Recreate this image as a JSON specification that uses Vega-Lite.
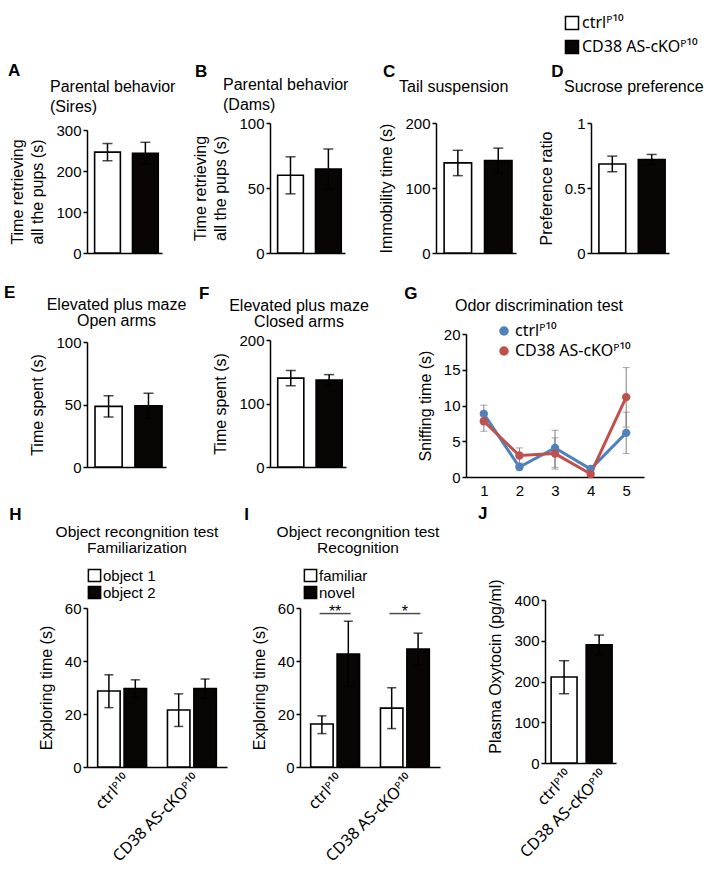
{
"$schema":"https://vega.github.io/schema/vega-lite/v6.json",
"background":"white",
"padding":{"left":3,"top":15,"right":0,"bottom":0},
"config":{
 "font":"Liberation Sans",
 "view":{"stroke":null},
 "axis":{"grid":false,"domainColor":"black","domainWidth":1.5,"tickColor":"black","tickWidth":1.5,"tickSize":4,"labelFontSize":15,"labelColor":"black","titleFontSize":16,"titleFontWeight":"normal","titleColor":"black","labelPadding":2,"titlePadding":10},
 "axisX":{"ticks":false,"labelFont":"Noto Sans","labelFontSize":16},
 "title":{"fontSize":16,"fontWeight":"normal","color":"black"},
 "legend":{"labelFontSize":16,"labelColor":"black","labelFont":"Noto Sans"}
},
"datasets":{
 "A":[{"g":"ctrlᴾ¹⁰","m":246,"lo":225,"hi":267},{"g":"CD38 AS-cKOᴾ¹⁰","m":243,"lo":216,"hi":270}],
 "B":[{"g":"ctrlᴾ¹⁰","m":59.8,"lo":45.5,"hi":74},{"g":"CD38 AS-cKOᴾ¹⁰","m":64.5,"lo":49,"hi":80}],
 "C":[{"g":"ctrlᴾ¹⁰","m":138.7,"lo":119,"hi":158},{"g":"CD38 AS-cKOᴾ¹⁰","m":142.3,"lo":123,"hi":161.3}],
 "D":[{"g":"ctrlᴾ¹⁰","m":0.685,"lo":0.625,"hi":0.745},{"g":"CD38 AS-cKOᴾ¹⁰","m":0.719,"lo":0.68,"hi":0.758}],
 "E":[{"g":"ctrlᴾ¹⁰","m":48.5,"lo":40,"hi":57},{"g":"CD38 AS-cKOᴾ¹⁰","m":49,"lo":39,"hi":59}],
 "F":[{"g":"ctrlᴾ¹⁰","m":140,"lo":128,"hi":152},{"g":"CD38 AS-cKOᴾ¹⁰","m":137,"lo":129,"hi":145.5}],
 "G":[
  {"odor":1,"g":"ctrlᴾ¹⁰","m":8.83,"lo":7.6,"hi":10.05},
  {"odor":2,"g":"ctrlᴾ¹⁰","m":1.4,"lo":1.0,"hi":1.8},
  {"odor":3,"g":"ctrlᴾ¹⁰","m":4.07,"lo":1.35,"hi":6.54},
  {"odor":4,"g":"ctrlᴾ¹⁰","m":1.12,"lo":0.95,"hi":1.3},
  {"odor":5,"g":"ctrlᴾ¹⁰","m":6.17,"lo":3.27,"hi":9.07},
  {"odor":1,"g":"CD38 AS-cKOᴾ¹⁰","m":7.8,"lo":6.4,"hi":9.2},
  {"odor":2,"g":"CD38 AS-cKOᴾ¹⁰","m":3.0,"lo":1.95,"hi":4.07},
  {"odor":3,"g":"CD38 AS-cKOᴾ¹⁰","m":3.27,"lo":1.1,"hi":5.47},
  {"odor":4,"g":"CD38 AS-cKOᴾ¹⁰","m":0.42,"lo":0.15,"hi":0.7},
  {"odor":5,"g":"CD38 AS-cKOᴾ¹⁰","m":11.17,"lo":7.0,"hi":15.3}],
 "H":[
  {"g":"ctrlᴾ¹⁰","o":"object 1","m":28.7,"lo":22.4,"hi":34.8},
  {"g":"ctrlᴾ¹⁰","o":"object 2","m":29.6,"lo":26.3,"hi":32.9},
  {"g":"CD38 AS-cKOᴾ¹⁰","o":"object 1","m":21.5,"lo":15.3,"hi":27.6},
  {"g":"CD38 AS-cKOᴾ¹⁰","o":"object 2","m":29.6,"lo":26,"hi":33.2}],
 "I":[
  {"g":"ctrlᴾ¹⁰","o":"familiar","m":16.2,"lo":12.6,"hi":19.3},
  {"g":"ctrlᴾ¹⁰","o":"novel","m":42.6,"lo":30.3,"hi":55},
  {"g":"CD38 AS-cKOᴾ¹⁰","o":"familiar","m":22.2,"lo":14.5,"hi":29.9},
  {"g":"CD38 AS-cKOᴾ¹⁰","o":"novel","m":44.5,"lo":38.5,"hi":50.5}],
 "Isig":[{"g":"ctrlᴾ¹⁰","y":57.9,"t":"**"},{"g":"CD38 AS-cKOᴾ¹⁰","y":57.9,"t":"*"}],
 "J":[{"g":"ctrlᴾ¹⁰","m":211,"lo":170,"hi":251},{"g":"CD38 AS-cKOᴾ¹⁰","m":290,"lo":266,"hi":314}]
},
"spacing":23,
"resolve":{"scale":{"fill":"independent","color":"independent","xOffset":"independent"},"legend":{"fill":"independent","color":"independent"}},
"vconcat":[
 {"spacing":29,
  "hconcat":[
  {"spacing":16,
   "hconcat":[
   {"title":{"text":"A","anchor":"start","frame":"bounds","fontSize":17,"fontWeight":"bold","offset":-1,"dx":-2},
    "vconcat":[{
     "width":75,"height":130,
     "title":{"text":["Parental behavior","(Sires)"],"anchor":"start","frame":"group","dx":-37,"offset":8,"lineHeight":20},
     "data":{"name":"A"},
     "encoding":{"x":{"field":"g","type":"nominal","sort":null,"title":null,"axis":{"labels":false,"ticks":false},"scale":{"paddingInner":0.32,"paddingOuter":0.15,"align":0.67}}},
     "layer":[
      {"mark":{"type":"bar","stroke":"black","strokeWidth":1.6},
       "encoding":{"y":{"field":"m","type":"quantitative","scale":{"domain":[0,300],"range":[130,7]},"axis":{"values":[0,100,200,300],"title":["Time retrieving","all the pups (s)"],"titleLineHeight":20}},
        "fill":{"field":"g","type":"nominal","sort":null,"scale":{"domain":["ctrlᴾ¹⁰","CD38 AS-cKOᴾ¹⁰"],"range":["white","#0a0505"]},
         "legend":{"orient":"none","legendX":477,"legendY":-108,"title":null,"symbolType":"square","symbolSize":170,"symbolStrokeColor":"black","symbolStrokeWidth":1.5,"labelFontSize":16,"rowPadding":4,"labelOffset":2}}}},
      {"mark":{"type":"rule","color":"black","strokeWidth":1.5},"encoding":{"y":{"field":"lo","type":"quantitative","axis":{"values":[0,100,200,300],"title":["Time retrieving","all the pups (s)"],"titleLineHeight":20}},"y2":{"field":"hi"}}},
      {"mark":{"type":"tick","color":"black","size":10,"thickness":1.5},"encoding":{"y":{"field":"lo","type":"quantitative","axis":{"values":[0,100,200,300],"title":["Time retrieving","all the pups (s)"],"titleLineHeight":20}}}},
      {"mark":{"type":"tick","color":"black","size":10,"thickness":1.5},"encoding":{"y":{"field":"hi","type":"quantitative","axis":{"values":[0,100,200,300],"title":["Time retrieving","all the pups (s)"],"titleLineHeight":20}}}}
     ]}]},
   {"title":{"text":"B","anchor":"start","frame":"bounds","fontSize":17,"fontWeight":"bold","offset":-3.5,"dx":2},
    "vconcat":[{
     "width":75,"height":130,
     "title":{"text":["Parental behavior","(Dams)"],"anchor":"start","frame":"group","dx":-47,"offset":3,"lineHeight":20},
     "data":{"name":"B"},
     "encoding":{"x":{"field":"g","type":"nominal","sort":null,"title":null,"axis":{"labels":false,"ticks":false},"scale":{"paddingInner":0.32,"paddingOuter":0.15,"align":0.67}}},
     "layer":[
      {"mark":{"type":"bar","stroke":"black","strokeWidth":1.6},
       "encoding":{"y":{"field":"m","type":"quantitative","scale":{"domain":[0,100]},"axis":{"values":[0,50,100],"title":["Time retrieving","all the pups (s)"],"titleLineHeight":20}},
        "fill":{"field":"g","type":"nominal","sort":null,"scale":{"domain":["ctrlᴾ¹⁰","CD38 AS-cKOᴾ¹⁰"],"range":["white","#0a0505"]},
         "legend":{"orient":"none","legendX":477,"legendY":-108,"title":null,"symbolType":"square","symbolSize":170,"symbolStrokeColor":"black","symbolStrokeWidth":1.5,"labelFontSize":16,"rowPadding":4,"labelOffset":2}}}},
      {"mark":{"type":"rule","color":"black","strokeWidth":1.5},"encoding":{"y":{"field":"lo","type":"quantitative","axis":{"values":[0,50,100],"title":["Time retrieving","all the pups (s)"],"titleLineHeight":20}},"y2":{"field":"hi"}}},
      {"mark":{"type":"tick","color":"black","size":10,"thickness":1.5},"encoding":{"y":{"field":"lo","type":"quantitative","axis":{"values":[0,50,100],"title":["Time retrieving","all the pups (s)"],"titleLineHeight":20}}}},
      {"mark":{"type":"tick","color":"black","size":10,"thickness":1.5},"encoding":{"y":{"field":"hi","type":"quantitative","axis":{"values":[0,50,100],"title":["Time retrieving","all the pups (s)"],"titleLineHeight":20}}}}
     ]}]}
   ]},
  {"spacing":22,
   "hconcat":[
   {"title":{"text":"C","anchor":"start","frame":"bounds","fontSize":17,"fontWeight":"bold","offset":-2,"dx":4},
    "vconcat":[{
     "width":80,"height":130,
     "title":{"text":"Tail suspension","anchor":"start","frame":"group","dx":-37,"offset":21},
     "data":{"name":"C"},
     "encoding":{"x":{"field":"g","type":"nominal","sort":null,"title":null,"axis":{"labels":false,"ticks":false},"scale":{"paddingInner":0.32,"paddingOuter":0.15,"align":0.67}}},
     "layer":[
      {"mark":{"type":"bar","stroke":"black","strokeWidth":1.6},
       "encoding":{"y":{"field":"m","type":"quantitative","scale":{"domain":[0,200]},"axis":{"values":[0,100,200],"title":"Immobility time (s)"}},
        "fill":{"field":"g","type":"nominal","sort":null,"scale":{"domain":["ctrlᴾ¹⁰","CD38 AS-cKOᴾ¹⁰"],"range":["white","#0a0505"]},
         "legend":{"orient":"none","legendX":477,"legendY":-108,"title":null,"symbolType":"square","symbolSize":170,"symbolStrokeColor":"black","symbolStrokeWidth":1.5,"labelFontSize":16,"rowPadding":4,"labelOffset":2}}}},
      {"mark":{"type":"rule","color":"black","strokeWidth":1.5},"encoding":{"y":{"field":"lo","type":"quantitative","axis":{"values":[0,100,200],"title":"Immobility time (s)"}},"y2":{"field":"hi"}}},
      {"mark":{"type":"tick","color":"black","size":10,"thickness":1.5},"encoding":{"y":{"field":"lo","type":"quantitative","axis":{"values":[0,100,200],"title":"Immobility time (s)"}}}},
      {"mark":{"type":"tick","color":"black","size":10,"thickness":1.5},"encoding":{"y":{"field":"hi","type":"quantitative","axis":{"values":[0,100,200],"title":"Immobility time (s)"}}}}
     ]}]},
   {"title":{"text":"D","anchor":"start","frame":"bounds","fontSize":17,"fontWeight":"bold","offset":-2,"dx":13},
    "vconcat":[{
     "width":78,"height":130,
     "title":{"text":"Sucrose preference","anchor":"start","frame":"group","dx":-27,"offset":21},
     "data":{"name":"D"},
     "encoding":{"x":{"field":"g","type":"nominal","sort":null,"title":null,"axis":{"labels":false,"ticks":false},"scale":{"paddingInner":0.32,"paddingOuter":0.15,"align":0.67}}},
     "layer":[
      {"mark":{"type":"bar","stroke":"black","strokeWidth":1.6},
       "encoding":{"y":{"field":"m","type":"quantitative","scale":{"domain":[0,1]},"axis":{"values":[0,0.5,1],"format":".1~f","title":"Preference ratio"}},
        "fill":{"field":"g","type":"nominal","sort":null,"scale":{"domain":["ctrlᴾ¹⁰","CD38 AS-cKOᴾ¹⁰"],"range":["white","#0a0505"]},
         "legend":{"orient":"none","legendX":477,"legendY":-108,"title":null,"symbolType":"square","symbolSize":170,"symbolStrokeColor":"black","symbolStrokeWidth":1.5,"labelFontSize":16,"rowPadding":4,"labelOffset":2}}}},
      {"mark":{"type":"rule","color":"black","strokeWidth":1.5},"encoding":{"y":{"field":"lo","type":"quantitative","axis":{"values":[0,0.5,1],"format":".1~f","title":"Preference ratio"}},"y2":{"field":"hi"}}},
      {"mark":{"type":"tick","color":"black","size":10,"thickness":1.5},"encoding":{"y":{"field":"lo","type":"quantitative","axis":{"values":[0,0.5,1],"format":".1~f","title":"Preference ratio"}}}},
      {"mark":{"type":"tick","color":"black","size":10,"thickness":1.5},"encoding":{"y":{"field":"hi","type":"quantitative","axis":{"values":[0,0.5,1],"format":".1~f","title":"Preference ratio"}}}}
     ]}]}
   ]}
  ]},
 {"spacing":6,
  "resolve":{"scale":{"fill":"independent","color":"independent","xOffset":"independent"},"legend":{"fill":"independent","color":"independent"}},
  "vconcat":[
  {"spacing":35,
   "resolve":{"scale":{"fill":"independent","color":"independent"},"legend":{"fill":"independent","color":"independent"}},
   "hconcat":[
   {"spacing":11,
    "hconcat":[
    {"title":{"text":"E","anchor":"start","frame":"bounds","fontSize":17,"fontWeight":"bold","offset":-5,"dx":-26},
     "vconcat":[{
      "width":79,"height":133,
      "title":{"text":["Elevated plus maze","Open arms"],"anchor":"middle","frame":"group","dx":-10,"offset":5,"lineHeight":16},
      "data":{"name":"E"},
      "encoding":{"x":{"field":"g","type":"nominal","sort":null,"title":null,"axis":{"labels":false,"ticks":false},"scale":{"paddingInner":0.32,"paddingOuter":0.15,"align":0.67}}},
      "layer":[
       {"mark":{"type":"bar","stroke":"black","strokeWidth":1.6},
        "encoding":{"y":{"field":"m","type":"quantitative","scale":{"domain":[0,100],"range":[133,8]},"axis":{"values":[0,50,100],"title":"Time spent (s)"}},
         "fill":{"field":"g","type":"nominal","sort":null,"scale":{"domain":["ctrlᴾ¹⁰","CD38 AS-cKOᴾ¹⁰"],"range":["white","#0a0505"]},"legend":null}}},
       {"mark":{"type":"rule","color":"black","strokeWidth":1.5},"encoding":{"y":{"field":"lo","type":"quantitative","axis":{"values":[0,50,100],"title":"Time spent (s)"}},"y2":{"field":"hi"}}},
       {"mark":{"type":"tick","color":"black","size":10,"thickness":1.5},"encoding":{"y":{"field":"lo","type":"quantitative","axis":{"values":[0,50,100],"title":"Time spent (s)"}}}},
       {"mark":{"type":"tick","color":"black","size":10,"thickness":1.5},"encoding":{"y":{"field":"hi","type":"quantitative","axis":{"values":[0,50,100],"title":"Time spent (s)"}}}}
      ]}]},
    {"title":{"text":"F","anchor":"start","frame":"bounds","fontSize":17,"fontWeight":"bold","offset":-5,"dx":-14},
     "vconcat":[{
      "width":76,"height":133,
      "title":{"text":["Elevated plus maze","Closed arms"],"anchor":"middle","frame":"group","dx":-9,"offset":3.5,"lineHeight":16},
      "data":{"name":"F"},
      "encoding":{"x":{"field":"g","type":"nominal","sort":null,"title":null,"axis":{"labels":false,"ticks":false},"scale":{"paddingInner":0.32,"paddingOuter":0.15,"align":0.67}}},
      "layer":[
       {"mark":{"type":"bar","stroke":"black","strokeWidth":1.6},
        "encoding":{"y":{"field":"m","type":"quantitative","scale":{"domain":[0,200],"range":[133,6]},"axis":{"values":[0,100,200],"title":"Time spent (s)"}},
         "fill":{"field":"g","type":"nominal","sort":null,"scale":{"domain":["ctrlᴾ¹⁰","CD38 AS-cKOᴾ¹⁰"],"range":["white","#0a0505"]},"legend":null}}},
       {"mark":{"type":"rule","color":"black","strokeWidth":1.5},"encoding":{"y":{"field":"lo","type":"quantitative","axis":{"values":[0,100,200],"title":"Time spent (s)"}},"y2":{"field":"hi"}}},
       {"mark":{"type":"tick","color":"black","size":10,"thickness":1.5},"encoding":{"y":{"field":"lo","type":"quantitative","axis":{"values":[0,100,200],"title":"Time spent (s)"}}}},
       {"mark":{"type":"tick","color":"black","size":10,"thickness":1.5},"encoding":{"y":{"field":"hi","type":"quantitative","axis":{"values":[0,100,200],"title":"Time spent (s)"}}}}
      ]}]}
    ]},
   {"title":{"text":"G","anchor":"start","frame":"bounds","fontSize":17,"fontWeight":"bold","offset":-5,"dx":-13},
    "resolve":{"scale":{"color":"independent"},"legend":{"color":"independent"}},
    "vconcat":[{
     "width":178,"height":143,
     "title":{"text":"Odor discrimination test","anchor":"middle","frame":"group","dx":-16,"offset":9},
     "data":{"name":"G"},
     "encoding":{"x":{"field":"odor","type":"ordinal","title":null,"scale":{"type":"point","padding":0.5},"axis":{"labelAngle":0,"ticks":false,"labelPadding":6,"labelFont":"Liberation Sans","labelFontSize":15}}},
     "layer":[
      {"mark":{"type":"line","strokeWidth":3},
       "encoding":{"y":{"field":"m","type":"quantitative","scale":{"domain":[0,20]},"axis":{"values":[0,5,10,15,20],"title":"Sniffing time (s)"}},
        "color":{"field":"g","type":"nominal","sort":null,"scale":{"domain":["ctrlᴾ¹⁰","CD38 AS-cKOᴾ¹⁰"],"range":["#4f81bd","#c0504d"]},
         "legend":{"orient":"none","legendX":30,"legendY":-11,"title":null,"symbolType":"circle","symbolSize":90,"symbolStrokeWidth":0,"labelFontSize":16,"rowPadding":4,"labelOffset":3}}}},
      {"mark":{"type":"rule","color":"#7f7f7f","strokeWidth":1},"encoding":{"y":{"field":"lo","type":"quantitative","axis":{"values":[0,5,10,15,20],"title":"Sniffing time (s)"}},"y2":{"field":"hi"}}},
      {"mark":{"type":"tick","color":"#7f7f7f","size":7,"thickness":1},"encoding":{"y":{"field":"lo","type":"quantitative","axis":{"values":[0,5,10,15,20],"title":"Sniffing time (s)"}}}},
      {"mark":{"type":"tick","color":"#7f7f7f","size":7,"thickness":1},"encoding":{"y":{"field":"hi","type":"quantitative","axis":{"values":[0,5,10,15,20],"title":"Sniffing time (s)"}}}},
      {"mark":{"type":"point","filled":true,"size":70,"opacity":1},
       "encoding":{"y":{"field":"m","type":"quantitative","axis":{"values":[0,5,10,15,20],"title":"Sniffing time (s)"}},"color":{"field":"g","type":"nominal","sort":null}}}
     ]}]}
   ]},
  {"spacing":37,
   "resolve":{"scale":{"fill":"independent","color":"independent","xOffset":"independent"},"legend":{"fill":"independent","color":"independent"}},
   "hconcat":[
   {"spacing":17,
    "resolve":{"scale":{"fill":"independent","xOffset":"independent"},"legend":{"fill":"independent"}},
    "hconcat":[
    {"title":{"text":"H","anchor":"start","frame":"bounds","fontSize":17,"fontWeight":"bold","offset":0.5,"dx":-29},
     "resolve":{"scale":{"fill":"independent","xOffset":"independent"},"legend":{"fill":"independent"}},
     "vconcat":[{
      "width":140,"height":167,
      "title":{"text":["Object recongnition test","Familiarization"],"anchor":"middle","frame":"group","dx":-20,"offset":12,"lineHeight":16,"fontSize":15.5},
      "data":{"name":"H"},
      "encoding":{"x":{"field":"g","type":"nominal","sort":null,"title":null,"axis":{"labelAngle":-45,"ticks":false,"labelPadding":4},"scale":{"paddingInner":0.3,"paddingOuter":0.153}},
       "xOffset":{"field":"o","type":"nominal","sort":null,"scale":{"paddingInner":0.15,"paddingOuter":0}}},
      "layer":[
       {"mark":{"type":"bar","stroke":"black","strokeWidth":1.6},
        "encoding":{"y":{"field":"m","type":"quantitative","scale":{"domain":[0,60],"range":[167,8]},"axis":{"values":[0,20,40,60],"title":"Exploring time (s)"}},
         "fill":{"field":"o","type":"nominal","sort":null,"scale":{"domain":["object 1","object 2"],"range":["white","#0a0505"]},
          "legend":{"orient":"none","legendX":0,"legendY":-32,"title":null,"symbolType":"square","symbolSize":150,"symbolStrokeColor":"black","symbolStrokeWidth":1.5,"labelFontSize":15,"labelFont":"Liberation Sans","rowPadding":-2,"labelOffset":1}}}},
       {"mark":{"type":"rule","color":"black","strokeWidth":1.5},"encoding":{"y":{"field":"lo","type":"quantitative","axis":{"values":[0,20,40,60],"title":"Exploring time (s)"}},"y2":{"field":"hi"}}},
       {"mark":{"type":"tick","color":"black","size":9,"thickness":1.5},"encoding":{"y":{"field":"lo","type":"quantitative","axis":{"values":[0,20,40,60],"title":"Exploring time (s)"}}}},
       {"mark":{"type":"tick","color":"black","size":9,"thickness":1.5},"encoding":{"y":{"field":"hi","type":"quantitative","axis":{"values":[0,20,40,60],"title":"Exploring time (s)"}}}}
      ]}]},
    {"title":{"text":"I","anchor":"start","frame":"bounds","fontSize":17,"fontWeight":"bold","offset":0.5,"dx":-7},
     "resolve":{"scale":{"fill":"independent","xOffset":"independent"},"legend":{"fill":"independent"}},
     "vconcat":[{
      "width":140,"height":167,
      "title":{"text":["Object recongnition test","Recognition"],"anchor":"middle","frame":"group","dx":-12,"offset":12,"lineHeight":16,"fontSize":15.5},
      "encoding":{"x":{"field":"g","type":"nominal","sort":null,"title":null,"axis":{"labelAngle":-45,"ticks":false,"labelPadding":4},"scale":{"paddingInner":0.3,"paddingOuter":0.153}}},
      "layer":[
       {"data":{"name":"I"},
        "encoding":{"xOffset":{"field":"o","type":"nominal","sort":null,"scale":{"paddingInner":0.15,"paddingOuter":0}}},
        "layer":[
         {"mark":{"type":"bar","stroke":"black","strokeWidth":1.6},
          "encoding":{"y":{"field":"m","type":"quantitative","scale":{"domain":[0,60],"range":[167,8]},"axis":{"values":[0,20,40,60],"title":"Exploring time (s)"}},
           "fill":{"field":"o","type":"nominal","sort":null,"scale":{"domain":["familiar","novel"],"range":["white","#0a0505"]},
            "legend":{"orient":"none","legendX":3,"legendY":-32,"title":null,"symbolType":"square","symbolSize":150,"symbolStrokeColor":"black","symbolStrokeWidth":1.5,"labelFontSize":15,"labelFont":"Liberation Sans","rowPadding":-2,"labelOffset":1}}}},
         {"mark":{"type":"rule","color":"black","strokeWidth":1.5},"encoding":{"y":{"field":"lo","type":"quantitative","axis":{"values":[0,20,40,60],"title":"Exploring time (s)"}},"y2":{"field":"hi"}}},
         {"mark":{"type":"tick","color":"black","size":9,"thickness":1.5},"encoding":{"y":{"field":"lo","type":"quantitative","axis":{"values":[0,20,40,60],"title":"Exploring time (s)"}}}},
         {"mark":{"type":"tick","color":"black","size":9,"thickness":1.5},"encoding":{"y":{"field":"hi","type":"quantitative","axis":{"values":[0,20,40,60],"title":"Exploring time (s)"}}}}
        ]},
       {"data":{"name":"Isig"},"mark":{"type":"tick","color":"black","size":31,"thickness":1.5},"encoding":{"y":{"field":"y","type":"quantitative","axis":{"values":[0,20,40,60],"title":"Exploring time (s)"}}}},
       {"data":{"name":"Isig"},"mark":{"type":"text","fontSize":16,"baseline":"alphabetic","dy":3,"color":"black"},"encoding":{"y":{"field":"y","type":"quantitative","axis":{"values":[0,20,40,60],"title":"Exploring time (s)"}},"text":{"field":"t"}}}
      ]}]}
    ]},
   {"title":{"text":"J","anchor":"start","frame":"bounds","fontSize":17,"fontWeight":"bold","offset":54,"dx":-10},
    "vconcat":[{
     "width":71,"height":163,
     "data":{"name":"J"},
     "encoding":{"x":{"field":"g","type":"nominal","sort":null,"title":null,"axis":{"labelAngle":-45,"ticks":false,"labelPadding":4},"scale":{"paddingInner":0.26,"paddingOuter":0.143,"align":0.61}}},
     "layer":[
      {"mark":{"type":"bar","stroke":"black","strokeWidth":1.6},
       "encoding":{"y":{"field":"m","type":"quantitative","scale":{"domain":[0,400]},"axis":{"values":[0,100,200,300,400],"title":"Plasma Oxytocin  (pg/ml)","titleY":66}},
        "fill":{"field":"g","type":"nominal","sort":null,"scale":{"domain":["ctrlᴾ¹⁰","CD38 AS-cKOᴾ¹⁰"],"range":["white","#0a0505"]},"legend":null}}},
      {"mark":{"type":"rule","color":"black","strokeWidth":1.5},"encoding":{"y":{"field":"lo","type":"quantitative","axis":{"values":[0,100,200,300,400],"title":"Plasma Oxytocin  (pg/ml)","titleY":66}},"y2":{"field":"hi"}}},
      {"mark":{"type":"tick","color":"black","size":10,"thickness":1.5},"encoding":{"y":{"field":"lo","type":"quantitative","axis":{"values":[0,100,200,300,400],"title":"Plasma Oxytocin  (pg/ml)","titleY":66}}}},
      {"mark":{"type":"tick","color":"black","size":10,"thickness":1.5},"encoding":{"y":{"field":"hi","type":"quantitative","axis":{"values":[0,100,200,300,400],"title":"Plasma Oxytocin  (pg/ml)","titleY":66}}}}
     ]}]}
   ]}
  ]}
]
}
